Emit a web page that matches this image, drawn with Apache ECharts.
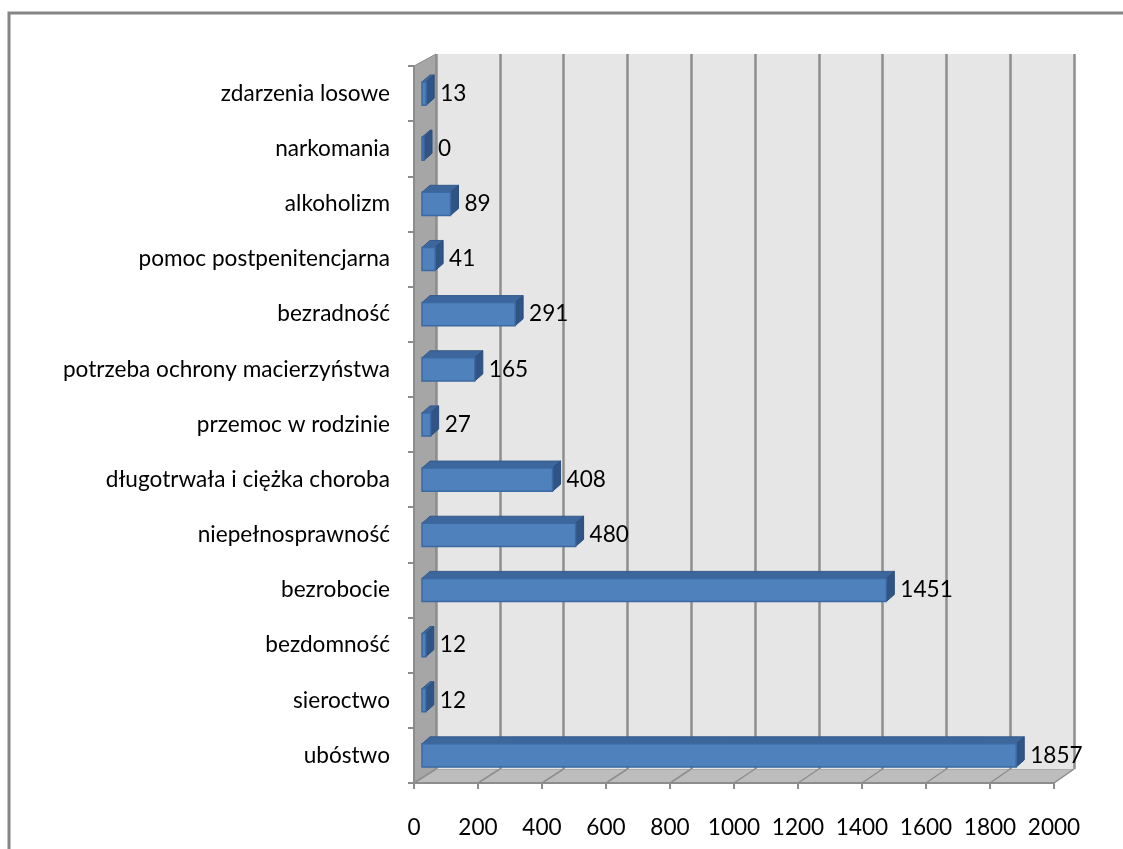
<!DOCTYPE html>
<html><head><meta charset="utf-8">
<script src="https://cdn.jsdelivr.net/npm/echarts@6/dist/echarts.min.js"></script>
<style>html,body{margin:0;padding:0;background:#fff}#c{width:1123px;height:849px}</style>
</head><body><div id="c"></div>
<script>
const categories = ['ubóstwo','sieroctwo','bezdomność','bezrobocie','niepełnosprawność','długotrwała i ciężka choroba','przemoc w rodzinie','potrzeba ochrony macierzyństwa','bezradność','pomoc postpenitencjarna','alkoholizm','narkomania','zdarzenia losowe'];
const values = [1857,12,12,1451,480,408,27,165,291,41,89,0,13];
const valueTicks = [0,200,400,600,800,1000,1200,1400,1600,1800,2000];

const FONT = 'Lato';
const FS = 22.6;
const chart = echarts.init(document.getElementById('c'), null, {renderer:'canvas'});
const DX = 8, DY = 7;
const FLOOR_FRONT = 783, FLOOR_BACK = 769;

const baseGraphic = [
  {id:'border', type:'rect', shape:{x:9,y:13,width:1200,height:900}, style:{fill:'none',stroke:'#868686',lineWidth:3}, z:-10},
  {id:'wall', type:'polygon', shape:{points:[[414,66],[436,54],[436,FLOOR_BACK],[414,FLOOR_FRONT]]}, style:{fill:'#a6a6a6',stroke:'#8c8c8c',lineWidth:1}, z:-5},
  {id:'floor', type:'polygon', shape:{points:[[414,FLOOR_FRONT],[436,FLOOR_BACK],[1074,FLOOR_BACK],[1054,FLOOR_FRONT]]}, style:{fill:'#bdbdbd',stroke:'#9a9a9a',lineWidth:1}, z:-5}
];

const option = {
  animation:false,
  backgroundColor:'#ffffff',
  graphic: baseGraphic,
  grid:[
    {left:436, right:49, top:54, bottom:80, show:true, backgroundColor:'#e6e6e6', borderWidth:0},
    {left:414, right:69, top:66, bottom:66, show:false},
    {left:422, right:61, top:66, bottom:66, show:false}
  ],
  xAxis:[
    {gridIndex:0, type:'value', min:0, max:2000, interval:200,
     axisLabel:{show:false}, axisTick:{show:false}, axisLine:{show:false},
     splitLine:{show:true, lineStyle:{color:'#8e8e8e', width:2.5}}},
    {gridIndex:1, type:'value', min:valueTicks[0], max:valueTicks[valueTicks.length-1], interval:valueTicks[1]-valueTicks[0],
     axisLabel:{show:true, margin:33, fontFamily:FONT, fontSize:FS, color:'#000', formatter:v=>String(v)},
     axisTick:{show:true, length:6, lineStyle:{color:'#8c8c8c', width:2}},
     axisLine:{show:true, lineStyle:{color:'#8c8c8c', width:2}},
     splitLine:{show:false}},
    {gridIndex:2, type:'value', min:0, max:2000, interval:200, show:false}
  ],
  yAxis:[
    {gridIndex:0, type:'category', data:categories, show:false},
    {gridIndex:1, type:'category', data:categories,
     axisLabel:{show:true, margin:24, fontFamily:FONT, fontSize:FS, color:'#000'},
     axisTick:{show:true, length:6, lineStyle:{color:'#8c8c8c', width:2}},
     axisLine:{show:true, lineStyle:{color:'#8c8c8c', width:2}}},
    {gridIndex:2, type:'category', data:categories, show:false}
  ],
  series:[{
    type:'custom', xAxisIndex:2, yAxisIndex:2,
    data: values.map((v,i)=>[v,i]),
    encode:{x:0,y:1},
    renderItem:function(params, api){
      const v = api.value(0), c = api.value(1);
      const p0 = api.coord([0,c]);
      const p1 = api.coord([v,c]);
      const band = api.size([0,1])[1];
      const h = band*0.42;
      const x0 = p0[0], x1 = Math.max(p1[0], x0+2), yc = p0[1];
      const yt = yc - h/2, yb = yc + h/2;
      return {type:'group', children:[
        {type:'polygon', shape:{points:[[x0,yt],[x0+DX,yt-DY],[x1+DX,yt-DY],[x1,yt]]},
         style:{fill:'#3d679c', stroke:'#35598a', lineWidth:1}},
        {type:'polygon', shape:{points:[[x1,yt],[x1+DX,yt-DY],[x1+DX,yb-DY],[x1,yb]]},
         style:{fill:'#2f5485', stroke:'#2b4e7d', lineWidth:1}},
        {type:'rect', shape:{x:x0, y:yt, width:x1-x0, height:h},
         style:{fill:'#4f81bd', stroke:'#3b6aa3', lineWidth:1.5}},
        {type:'text', x:x1+DX+6, y:yc, style:{text:String(v), fill:'#000', font:FS+'px '+FONT, textVerticalAlign:'middle', textAlign:'left'}}
      ]};
    }
  }]
};
chart.setOption(option);

// floor grid lines joining back-wall gridlines to front ticks
const floorLines = valueTicks.map((t,i)=>{
  const xf = chart.convertToPixel({xAxisIndex:1}, t);
  const xb = chart.convertToPixel({xAxisIndex:0}, t);
  return {id:'fl'+i, type:'line', shape:{x1:xb, y1:FLOOR_BACK, x2:xf, y2:FLOOR_FRONT},
          style:{stroke:'#8e8e8e', lineWidth:1.5}, z:-4};
});
chart.setOption({graphic: baseGraphic.concat(floorLines)});
</script></body></html>
